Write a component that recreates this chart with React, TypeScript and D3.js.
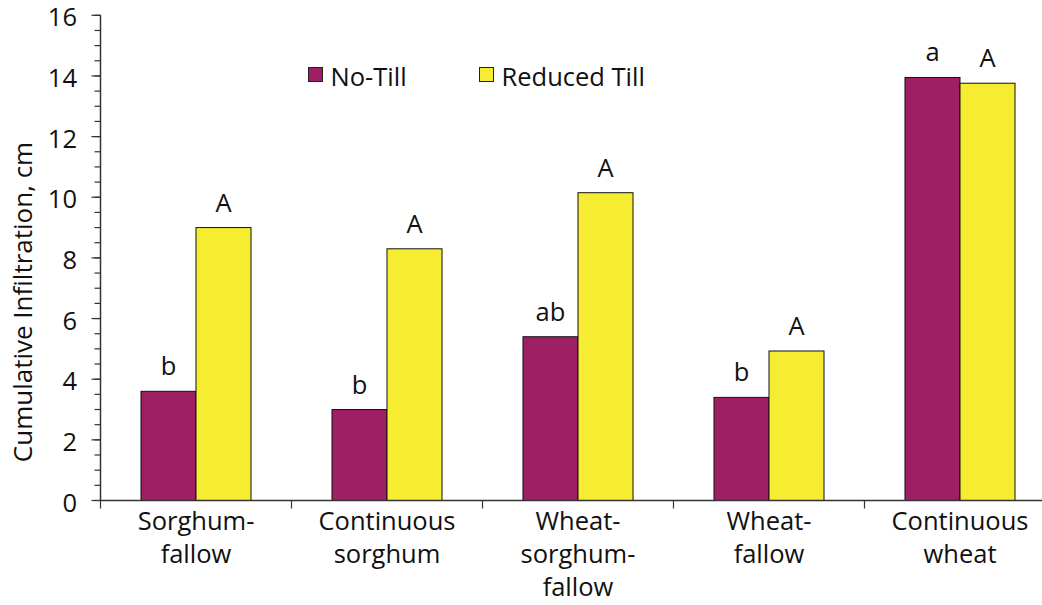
import { useEffect } from 'react';
import * as d3 from 'd3';

const categories = ['Sorghum-fallow', 'Continuous sorghum', 'Wheat-sorghum-fallow', 'Wheat-fallow', 'Continuous wheat'];
const categoryLines = [['Sorghum-', 'fallow'], ['Continuous', 'sorghum'], ['Wheat-', 'sorghum-', 'fallow'], ['Wheat-', 'fallow'], ['Continuous', 'wheat']];
const seriesNames = ['No-Till', 'Reduced Till'];
const noTill = [3.6, 3.0, 5.4, 3.4, 13.95];
const reducedTill = [9.0, 8.3, 10.15, 4.93, 13.76];
const noTillLetters = ['b', 'b', 'ab', 'b', 'a'];
const reducedTillLetters = ['A', 'A', 'A', 'A', 'A'];
const yTicks = [0, 2, 4, 6, 8, 10, 12, 14, 16];
const yMinorTicks = d3.range(0, 16.01, 0.5);

const colors = ['#9e1f63', '#f6ec31'];
const font = "'Open Sans', 'Noto Sans', sans-serif";
const fs = 25.5;

export default function App() {
  useEffect(() => {
    document.body.style.margin = '0';
  }, []);

  const width = 1042;
  const height = 605;
  const left = 100.5;
  const bottom = 500.5;
  const top = 15.3;
  const step = 191;

  const x = d3
    .scaleBand<string>()
    .domain(categories)
    .range([left, left + step * categories.length])
    .paddingInner(0)
    .paddingOuter(0);

  const x1 = d3
    .scaleBand<string>()
    .domain(seriesNames)
    .range([0, x.bandwidth()])
    .paddingInner(0)
    .paddingOuter(0.736);

  const y = d3.scaleLinear().domain([0, 16]).range([bottom, top]);

  const series = [
    { name: seriesNames[0], values: noTill, letters: noTillLetters, color: colors[0] },
    { name: seriesNames[1], values: reducedTill, letters: reducedTillLetters, color: colors[1] },
  ];

  return (
    <svg width={width} height={height} style={{ display: 'block', background: '#fff' }}>
      {/* Bars */}
      {series.map((s) =>
        categories.map((c, i) => {
          const bx = x(c)! + x1(s.name)!;
          return (
            <g key={s.name + c}>
              <rect
                x={bx}
                y={y(s.values[i])}
                width={x1.bandwidth()}
                height={y(0) - y(s.values[i])}
                fill={s.color}
                stroke="#111"
                strokeWidth={1}
              />
              <text
                x={bx + x1.bandwidth() / 2}
                y={y(s.values[i]) - 16}
                textAnchor="middle"
                fontFamily={font}
                fontSize={fs}
                fill="#111"
              >
                {s.letters[i]}
              </text>
            </g>
          );
        })
      )}

      {/* Y axis */}
      <line x1={left} x2={left} y1={top} y2={bottom} stroke="#333" strokeWidth={1.5} />
      {yMinorTicks.map((t) => (
        <line key={'m' + t} x1={left - 6} x2={left} y1={y(t)} y2={y(t)} stroke="#333" strokeWidth={1.2} />
      ))}
      {yTicks.map((t) => (
        <g key={'t' + t}>
          <line x1={left - 9} x2={left} y1={y(t)} y2={y(t)} stroke="#333" strokeWidth={1.2} />
          <text
            x={77}
            y={y(t) + 11}
            textAnchor="end"
            fontFamily={font}
            fontSize={fs}
            fill="#111"
          >
            {t}
          </text>
        </g>
      ))}

      {/* X axis */}
      <line x1={left} x2={width} y1={bottom} y2={bottom} stroke="#333" strokeWidth={1.5} />
      {categories.map((c) => (
        <line key={'xt' + c} x1={x(c)!} x2={x(c)!} y1={bottom} y2={bottom + 8} stroke="#333" strokeWidth={1.2} />
      ))}
      {categories.map((c, i) => (
        <text
          key={'xl' + c}
          x={x(c)! + x.bandwidth() / 2}
          y={530}
          textAnchor="middle"
          fontFamily={font}
          fontSize={fs}
          fill="#111"
        >
          {categoryLines[i].map((ln, j) => (
            <tspan key={j} x={x(c)! + x.bandwidth() / 2} dy={j === 0 ? 0 : 33}>
              {ln}
            </tspan>
          ))}
        </text>
      ))}

      {/* Y title */}
      <text
        transform={`translate(32, 302) rotate(-90)`}
        textAnchor="middle"
        fontFamily={font}
        fontSize={26}
        fill="#111"
      >
        Cumulative Infiltration, cm
      </text>

      {/* Legend */}
      {series.map((s, i) => {
        const lx = [308.5, 479.5][i];
        return (
          <g key={'lg' + s.name}>
            <rect x={lx} y={67.5} width={14} height={14} fill={s.color} stroke="#222" strokeWidth={1} />
            <text x={lx + 22} y={86} fontFamily={font} fontSize={fs} fill="#111">
              {s.name}
            </text>
          </g>
        );
      })}
    </svg>
  );
}
